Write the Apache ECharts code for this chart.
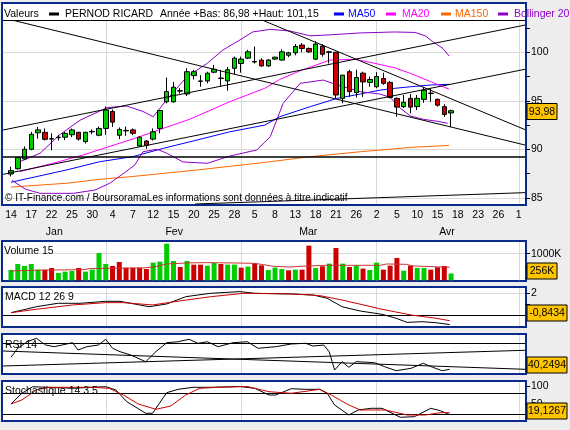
<!DOCTYPE HTML>
<html>
<head>
    <meta http-equiv="content-type" content="text/html;charset=utf-8">
    <script src="https://cdn.jsdelivr.net/npm/echarts@6.0.0/dist/echarts.min.js"></script>
    <title>PERNOD RICARD</title>
    <style>
        body { margin: 0; background: #ededed; }
        #main { width: 570px; height: 430px; }
    </style>
</head>
<body>
<div id="main"></div>
<script>
    // x axis = trading session index (0 = 14 Jan)
    var dayLabels = ['14', '17', '22', '25', '30', '4', '7', '12', '15', '20', '25', '28', '5', '8', '13', '18',
        '21', '26', '2', '5', '10', '15', '18', '23', '26', '1'];
    var monthNames = ['Jan', 'Fev', 'Mar', 'Avr'];
    var monthPos = [6.4, 24.1, 43.9, 64.4];
    var monthStarts = [14, 34, 54, 75];

    // open, close, low, high
    var ohlc = [
        [87.45, 87.8, 87.2, 88.2], [88.0, 89.15, 87.9, 89.2], [89.0, 90.0, 88.9, 90.3], [90.0, 91.55, 89.9, 91.8],
        [91.7, 92.0, 91.1, 92.3], [91.75, 91.03, 90.9, 92.15], [91.1, 91.05, 89.9, 91.65], [91.2, 91.25, 90.9, 91.5],
        [91.25, 91.65, 90.95, 91.8], [91.5, 92.0, 91.25, 92.15], [91.75, 91.05, 90.9, 91.8], [90.8, 91.75, 90.6, 91.8],
        [91.8, 91.85, 91.55, 92.05], [91.45, 92.15, 91.35, 92.35], [92.15, 94.05, 91.5, 94.4], [93.9, 92.8, 92.3, 94.1],
        [91.45, 92.05, 91.05, 92.25], [91.9, 91.95, 91.4, 92.35], [92.0, 91.65, 91.45, 92.15], [90.35, 91.25, 90.25, 91.35],
        [90.85, 90.4, 90.05, 90.95], [91.05, 91.8, 90.9, 92.15], [92.15, 94.0, 91.65, 94.05], [94.9, 95.95, 94.75, 97.4],
        [94.9, 96.4, 94.8, 96.95], [96.0, 96.05, 95.75, 96.3], [95.7, 98.0, 95.5, 98.35], [97.6, 98.0, 97.2, 98.2],
        [97.0, 97.05, 96.45, 97.65], [97.05, 97.85, 96.8, 98.0], [97.95, 98.25, 97.85, 98.7], [97.3, 97.35, 96.45, 98.2],
        [97.05, 98.2, 96.05, 98.5], [98.35, 99.4, 97.75, 99.55], [98.85, 99.3, 97.9, 99.55], [99.4, 100.05, 99.3, 100.25],
        [99.05, 99.0, 98.85, 100.6], [99.2, 98.6, 98.5, 99.4], [98.6, 99.2, 98.5, 99.3], [99.3, 99.5, 99.2, 99.55],
        [99.2, 100.05, 99.15, 100.3], [99.7, 99.95, 99.5, 100.05], [99.95, 100.6, 99.7, 100.85], [100.75, 100.4, 100.0, 100.95],
        [100.4, 100.05, 99.95, 100.5], [99.3, 100.85, 99.2, 101.15], [100.65, 99.8, 99.55, 100.85], [100.05, 100.0, 98.85, 100.15],
        [100.0, 95.6, 95.25, 100.05], [95.25, 97.65, 94.75, 97.65], [98.0, 95.95, 95.4, 98.2], [95.85, 97.4, 95.35, 98.2],
        [97.85, 96.95, 95.4, 98.0], [96.9, 97.2, 96.45, 97.5], [96.45, 97.5, 96.3, 97.95], [97.3, 96.8, 96.65, 97.9],
        [96.9, 95.35, 95.25, 97.05], [95.25, 94.35, 93.35, 95.35], [94.4, 94.85, 94.25, 95.6], [95.25, 94.35, 93.7, 95.7],
        [94.4, 95.25, 94.05, 95.6], [95.15, 96.1, 94.8, 96.4], [95.75, 95.8, 94.9, 96.3], [95.15, 94.55, 94.4, 95.25],
        [94.4, 93.6, 93.35, 94.65], [93.75, 93.98, 92.3, 94.1]
    ];

    // volume in thousands, 1 = green bar
    var volume = [388, 614, 539, 614, 401, 401, 464, 276, 326, 351, 464, 326, 401, 1027, 614, 539, 689, 476, 476, 476,
        426, 664, 702, 1378, 727, 501, 727, 589, 589, 551, 652, 614, 589, 589, 476, 514, 639, 564, 388, 476,
        426, 376, 401, 401, 1303, 464, 526, 627, 1215, 627, 501, 551, 439, 388, 664, 401, 551, 840, 363, 551,
        464, 464, 401, 489, 539, 256];
    var volUp = [1, 1, 1, 1, 1, 0, 0, 1, 1, 1, 0, 1, 1, 1, 1, 0, 0, 0, 0, 0, 0, 1, 1, 1, 1, 0, 1, 0, 0, 1,
        1, 0, 1, 1, 0, 1, 0, 0, 1, 1, 1, 0, 1, 0, 0, 1, 0, 1, 0, 1, 0, 1, 0, 1, 1, 0, 0, 0, 1, 0, 1, 1, 0, 0, 0, 1];
    var volAvg = [[0, 351], [3.3, 376], [10.7, 401], [11.7, 439], [14.6, 451], [19.5, 464], [21, 501], [22, 551],
        [23, 614], [26, 652], [28.9, 664], [32.8, 652], [35.8, 639], [37.3, 589], [38.7, 526], [41.2, 500],
        [42.7, 526], [46.6, 564], [54.5, 564], [55.5, 614], [58.4, 601], [59.4, 539], [64.8, 489]];

    // moving averages and bollinger bands [session, price]
    var ma50 = [[0, 86.6], [8.2, 87.87], [13.1, 88.72], [18, 89.24], [22.5, 90.1], [27.5, 90.96], [32.3, 91.8],
        [37.5, 92.5], [39.7, 93.36], [44.2, 94.4], [48.2, 95.26], [51.6, 95.7], [54.5, 96.1], [56.7, 96.29],
        [59, 96.45], [62, 96.63], [64.7, 96.7]];
    var ma20 = [[1.3, 87.7], [6.2, 88.56], [10.6, 89.4], [14.6, 90.3], [18.3, 91.13], [22.5, 92.16], [26.4, 93.1],
        [32.3, 94.9], [37.5, 96.3], [39.7, 97.2], [42.7, 98.1], [47.1, 99.2], [50.8, 99.28], [53.5, 98.9],
        [56.7, 98.4], [59, 97.83], [62, 96.97], [64.7, 96.2]];
    var ma150 = [[0, 86.1], [8.2, 86.5], [13.1, 86.9], [18, 87.2], [27.5, 87.87], [37.5, 88.65], [44.2, 89.24],
        [51.6, 89.75], [56.7, 90.05], [59, 90.2], [64.7, 90.4]];
    var bollUp = [[0.9, 88.6], [4.3, 89.6], [7.2, 91.5], [10.2, 93.0], [14.2, 94.3], [17.1, 94.46], [19.5, 93.9],
        [21, 93.36], [23, 95.1], [26, 97.5], [29, 98.87], [31.3, 100.24], [33.8, 101.27], [35.7, 102.1],
        [38.3, 102.37], [41.2, 102.2], [44.2, 101.7], [47.1, 101.8], [51.6, 102.0], [56.7, 102.1], [59.7, 102.05],
        [61.2, 101.7], [62.3, 101.1], [63.8, 100.4], [64.7, 99.62]];
    var bollDown = [[0.15, 86.8], [2.1, 85.9], [4.3, 85.46], [9.2, 85.46], [12.4, 85.8], [14.6, 86.5], [16.8, 87.6],
        [18.3, 88.4], [19.5, 89.75], [21.6, 90.0], [23, 89.6], [25.4, 88.7], [29, 88.56], [32.3, 89.3],
        [36.3, 89.93], [38.3, 91.3], [40.2, 94.74], [42.7, 96.8], [46.1, 97.14], [48.2, 96.63], [51.6, 95.94],
        [54.5, 95.7], [56, 95.36], [57.5, 94.23], [59, 93.43], [60.9, 93.09], [62.9, 92.9], [64.5, 92.68]];

    // trend lines drawn on the price panel
    var priceLines = [
        [[0.3, 103.3], [75.92, 90.44]],
        [[37.2, 103.3], [75.92, 92.03]],
        [[-1.18, 91.99], [75.92, 102.81]],
        [[-1.18, 87.42], [75.92, 98.25]],
        [[27.2, 84.36], [75.92, 85.53]]
    ];
    var support = [[-1.18, 89.2], [75.92, 89.2]];

    var macdLine = [[0, 0.24], [3.75, 0.78], [6.9, 1.09], [10.2, 1.09], [14, 1.27], [16.1, 1.27], [18.2, 1.03],
        [20.4, 0.78], [23, 1.03], [25.8, 1.69], [29.5, 2.0], [33.8, 2.15], [36, 2.0], [41.4, 1.94], [44.6, 1.85],
        [46.7, 1.55], [48.9, 0.78], [51.6, 0.39], [54.8, 0.09], [56.9, -0.27], [58.5, -0.64], [60.7, -0.58],
        [62.8, -0.67], [64.8, -0.84]];
    var macdSignal = [[0, 0.24], [3.75, 0.55], [9.1, 0.94], [14, 1.15], [16.6, 1.15], [20.9, 0.94], [25.2, 1.33],
        [29.5, 1.69], [34.4, 2.0], [41.4, 1.94], [45.6, 1.79], [48.9, 1.39], [54.8, 0.55], [59.1, 0.03],
        [62.8, -0.27], [64.8, -0.49]];

    var rsi = [[0, 54.0], [1, 64.3], [2.4, 71.8], [3.75, 75.7], [5.1, 68.1], [6.4, 66.1], [9.1, 70.7], [9.9, 62.3],
        [11.2, 66.1], [12.9, 68.0], [14, 74.6], [15, 64.3], [16.1, 60.4], [17.7, 56.6], [19.9, 48.9], [21.4, 60.4],
        [23, 70.7], [24.7, 71.8], [26.3, 74.6], [27.6, 70.0], [29, 71.8], [30.6, 66.1], [32.8, 70.7], [34.9, 71.8],
        [36.5, 64.3], [39.1, 66.1], [41.4, 69.2], [43.5, 70.0], [44.6, 66.9], [46.2, 68.0], [47, 60.4], [47.8, 39.4],
        [48.9, 49.0], [49.9, 42.5], [51, 49.0], [53.7, 47.8], [55.2, 43.2], [56.9, 38.6], [59.1, 41.4], [60.9, 47.1],
        [62.3, 42.5], [63.7, 38.6], [64.8, 40.25]];
    var rsiLevel = 70;
    var rsiLines = [
        [[-1.18, 44.0], [75.92, 62.0]],
        [[-1.18, 61.2], [75.92, 40.25]]
    ];

    var stochK = [[0, 49.6], [1.6, 80.4], [3.2, 99.4], [5.3, 97.7], [9.2, 94.8], [11.8, 97.7], [14, 99.4],
        [15.5, 89.9], [17.1, 56.3], [19.9, 22.9], [20.9, 22.9], [23, 82.2], [24.7, 91.9], [26.9, 97.7], [29.5, 97.7],
        [33.8, 100], [36, 94.8], [38.1, 75.5], [39.1, 75.5], [41.4, 93.7], [43.5, 91.9], [45.6, 91.9], [46.7, 80.4],
        [47.8, 46.8], [49.9, 18.0], [51.3, 32.4], [53.2, 37.3], [54.8, 37.3], [57.5, 11.4], [59.6, 13.1], [62, 37.3],
        [63.4, 30.4], [64.8, 19.1]];
    var stochD = [[0, 49.6], [1.6, 61.2], [3.75, 89.9], [5.3, 97.7], [11.8, 97.7], [14.5, 94.8], [16.6, 75.5],
        [18.8, 49.6], [21.4, 34.4], [23.6, 43.9], [25.8, 75.5], [27.9, 94.8], [30.6, 97.7], [34.9, 100], [38.1, 85.0],
        [41.4, 80.4], [45.6, 91.9], [47.3, 75.5], [49.9, 46.8], [51.6, 32.4], [55.3, 32.4], [58.5, 18.0], [61.2, 18.0],
        [63.4, 24.6], [64.8, 24.6]];
    var stochLevels = [20, 80];

    // last values shown in the yellow boxes
    var lastPrice = '93,98', lastVol = '256K', lastMacd = '-0,8434', lastRsi = '40,2494', lastStoch = '19,1267';
</script>
<script>
    var FONT = '"Liberation Sans", Arial, sans-serif';
    var FS = 10.5;
    var XMIN = -1.18, XMAX = 75.92;
    var GREEN = '#00cc00', RED = '#cc0000', NAVY = '#0a2a8c', GRID = '#d9d9d9';

    var myChart = echarts.init(document.getElementById('main'), null, { renderer: 'canvas' });

    function xAx(idx, label) {
        return {
            type: 'value', gridIndex: idx, position: 'bottom', min: XMIN, max: XMAX,
            axisLine: { show: false, onZero: false }, axisTick: { show: false }, splitLine: { show: false },
            axisLabel: label || { show: false }
        };
    }

    function yAx(idx, min, max, ticks, labels, fmt) {
        return {
            type: 'value', gridIndex: idx, position: 'right', min: min, max: max, z: 5,
            axisLine: { show: false, onZero: false }, splitLine: { show: false },
            axisTick: { show: ticks.length > 0, customValues: ticks, length: 5, lineStyle: { color: '#000' } },
            axisLabel: {
                show: labels.length > 0, customValues: labels, margin: 6, color: '#000',
                fontSize: FS, fontFamily: FONT, formatter: fmt
            }
        };
    }

    function line(idx, data, color, width, z) {
        return {
            type: 'line', xAxisIndex: idx, yAxisIndex: idx, data: data, symbol: 'none', silent: true,
            lineStyle: { color: color, width: width || 1 }, z: z || 2
        };
    }

    // light grid lines and black level lines, drawn with markLine
    function marks(idx, xs, ys, color) {
        var d = [];
        xs.forEach(function (v) { d.push({ xAxis: v }); });
        ys.forEach(function (v) { d.push({ yAxis: v }); });
        return {
            type: 'line', xAxisIndex: idx, yAxisIndex: idx, data: [], silent: true, z: 1,
            markLine: {
                silent: true, z: 1, symbol: ['none', 'none'], label: { show: false }, animation: false,
                lineStyle: { color: color, type: 'solid', width: 1 }, data: d
            }
        };
    }

    var dayIdx = dayLabels.map(function (d, i) { return i * 3; });

    var series = [
        marks(0, monthStarts, [85, 90, 95, 100], GRID),
        marks(1, monthStarts, [1000], GRID),
        marks(2, monthStarts, [2], GRID),
        marks(2, [], [0], '#000'),
        marks(3, monthStarts, [], GRID),
        marks(3, [], [rsiLevel], '#000'),
        marks(4, monthStarts, [], GRID),
        marks(4, [], stochLevels, '#000'),
        line(0, ma150, '#ff6600'),
        line(0, ma50, '#0000ff'),
        line(0, ma20, '#ff00ff'),
        line(0, bollUp, '#9000c8'),
        line(0, bollDown, '#9000c8'),
        {
            type: 'candlestick', xAxisIndex: 0, yAxisIndex: 0, barWidth: 5, z: 3, silent: true,
            encode: { x: 0, y: [1, 2, 3, 4] },
            data: ohlc.map(function (d, i) { return [i, d[0], d[1], d[2], d[3]]; }),
            itemStyle: {
                color: GREEN, color0: RED, borderColor: '#000', borderColor0: '#000',
                borderColorDoji: '#000', borderWidth: 1
            }
        },
        line(0, support, '#000', 1.6, 4),
        {
            type: 'bar', xAxisIndex: 1, yAxisIndex: 1, barWidth: 5, silent: true,
            data: volume.map(function (v, i) {
                return { value: [i, v], itemStyle: { color: volUp[i] ? GREEN : RED } };
            })
        },
        line(1, volAvg, '#cc3333', 1, 4),
        line(2, macdLine, '#000'),
        line(2, macdSignal, '#cc0000'),
        line(3, rsi, '#000'),
        line(4, stochK, '#000'),
        line(4, stochD, '#cc0000')
    ];
    priceLines.forEach(function (p) { series.push(line(0, p, '#000', 1, 4)); });
    rsiLines.forEach(function (p) { series.push(line(3, p, '#000', 1, 4)); });

    // panel frames, header and value boxes
    var g = [];
    [[3, 202], [241, 40], [287, 40], [334, 40], [381, 40]].forEach(function (p) {
        g.push({ type: 'rect', z: -10, shape: { x: 2, y: p[0], width: 524, height: p[1] },
            style: { fill: '#fff', stroke: NAVY, lineWidth: 2 } });
    });
    g.push({ type: 'line', z: 10, shape: { x1: 3, y1: 20.5, x2: 525, y2: 20.5 }, style: { stroke: '#000', lineWidth: 1 } });

    function txt(x, y, s, color, size) {
        g.push({ type: 'text', z: 60, x: x, y: y,
            style: { text: s, fill: color || '#000', font: (size || FS) + 'px ' + FONT, verticalAlign: 'middle', align: 'left' } });
    }
    function swatch(x, color) {
        g.push({ type: 'rect', z: 60, shape: { x: x, y: 12.5, width: 10, height: 3 }, style: { fill: color } });
    }
    txt(4, 14, 'Valeurs');
    swatch(49, '#000');
    txt(65, 14, 'PERNOD RICARD');
    txt(160, 14, 'Année +Bas: 86,98 +Haut: 101,15');
    swatch(334, '#0000ff'); txt(348, 14, 'MA50', '#0000ff');
    swatch(386, '#ff00ff'); txt(402, 14, 'MA20', '#ff00ff');
    swatch(441, '#ff6600'); txt(455, 14, 'MA150', '#ff6600');
    swatch(498, '#9000c8'); txt(514, 14, 'Bollinger 20', '#9000c8');
    txt(5, 198, '© IT-Finance.com / BoursoramaLes informations sont données à titre indicatif', '#000', 10);
    txt(4, 251, 'Volume 15');
    txt(5, 297, 'MACD 12 26 9');
    txt(5, 345, 'RSI 14');
    txt(5, 391, 'Stochastique 14 3 5');

    function box(y, w, s) {
        g.push({ type: 'rect', z: 70, shape: { x: 527, y: y, width: w, height: 16 },
            style: { fill: '#ffc400', stroke: '#000', lineWidth: 1 } });
        g.push({ type: 'text', z: 71, x: 527 + w / 2, y: y + 8.5,
            style: { text: s, fill: '#000', font: FS + 'px ' + FONT, verticalAlign: 'middle', align: 'center' } });
    }
    box(103.5, 30, lastPrice);
    box(263, 30, lastVol);
    box(305, 40, lastMacd);
    box(357, 40, lastRsi);
    box(403, 40, lastStoch);

    function gridAt(top, h) {
        return { left: 3, right: 45, top: top, height: h, outerBoundsMode: 'none', containLabel: false };
    }

    var option = {
        animation: false,
        backgroundColor: '#ededed',
        textStyle: { fontFamily: FONT },
        grid: [gridAt(21, 183), gridAt(242, 38.3), gridAt(288, 38), gridAt(335, 38), gridAt(382, 38)],
        xAxis: [
            xAx(0, {
                show: true, customValues: dayIdx, margin: 6, color: '#000', fontSize: FS, fontFamily: FONT,
                formatter: function (v) { return dayLabels[Math.round(v / 3)]; }
            }),
            xAx(1), xAx(2), xAx(3), xAx(4),
            xAx(0, {
                show: true, customValues: monthPos, margin: 23, color: '#000', fontSize: FS, fontFamily: FONT,
                formatter: function (v) {
                    var k = 0;
                    monthPos.forEach(function (m, i) { if (Math.abs(m - v) < Math.abs(monthPos[k] - v)) k = i; });
                    return monthNames[k];
                }
            })
        ],
        yAxis: [
            yAx(0, 84.36, 103.23, [85, 87.5, 90, 92.5, 95, 97.5, 100, 102.5], [85, 90, 95, 100]),
            yAx(1, 0, 1440, [500, 1000], [1000], function (v) { return v + 'K'; }),
            yAx(2, -0.97, 2.48, [1, 2], [2]),
            yAx(3, 36.0, 79.5, [], []),
            yAx(4, 3.6, 112.95, [50, 100], [50, 100])
        ],
        graphic: { elements: g },
        series: series
    };

    myChart.setOption(option);
</script>
</body>
</html>
